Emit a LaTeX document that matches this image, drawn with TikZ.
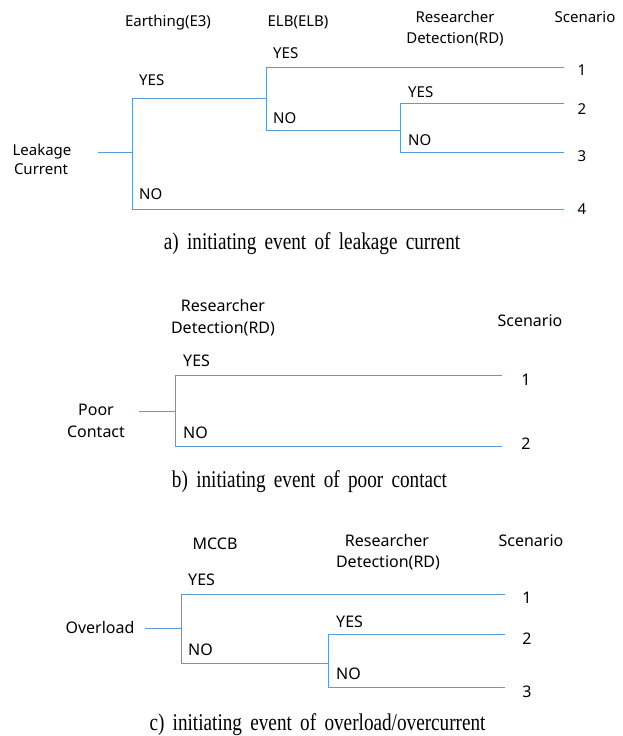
\documentclass[tikz,border=0pt]{standalone}
\usepackage{fontspec}
\setsansfont{Noto Sans}
\newfontfamily\capfont[FakeStretch=0.8]{Liberation Serif}
\definecolor{treeblue}{RGB}{91,155,213}
\tikzstyle{txt} = [inner sep=0pt,anchor=base,font=\sffamily\fontsize{15}{18}\selectfont]
\tikzstyle{txtb} = [txt,font=\sffamily\fontsize{16}{19}\selectfont]
\tikzstyle{yn} = [txt,anchor=base west]
\tikzstyle{ynb} = [txtb,anchor=base west]
\tikzstyle{capt} = [inner sep=0pt,anchor=base,font={\capfont\fontsize{24}{28}\selectfont\spaceskip=8.3pt\relax}]
\tikzstyle{treeline} = [draw=treeblue,line width=1pt]
\begin{document}
\begin{tikzpicture}[x=1pt,y=-1pt]
		\useasboundingbox (0,0) rectangle (622,736);
		% a) leakage current
		\node [txt](aE3) at (168,27){Earthing(E3)};
		\node [txt](aELB) at (298,27){ELB(ELB)};
		\node [txt](aRD1) at (455,23){Researcher};
		\node [txt](aRD2) at (455,43){Detection(RD)};
		\node [txt](aScen) at (585,23){Scenario};
		\node [txt](aInit1) at (42,155){Leakage};
		\node [txt](aInit2) at (41,174){Current};
		\node [yn](aE3y) at (139,85){YES};
		\node [yn](aE3n) at (139,199){NO};
		\node [yn](aELBy) at (273,58){YES};
		\node [yn](aELBn) at (273,123){NO};
		\node [yn](aRDy) at (408,97){YES};
		\node [yn](aRDn) at (408,145){NO};
		\node [txt](aS1) at (582,75){1};
		\node [txt](aS2) at (582,114){2};
		\node [txt](aS3) at (582,161){3};
		\node [txt](aS4) at (582,214){4};
		\coordinate (a0) at (98,152);
		\coordinate (a1) at (132,152);
		\coordinate (aT) at (132,98);
		\coordinate (aB) at (132,209);
		\coordinate (aJ) at (266,98);
		\coordinate (aELBt) at (266,67);
		\coordinate (aELBb) at (266,130);
		\coordinate (aRDj) at (400,130);
		\coordinate (aRDt) at (400,103);
		\coordinate (aRDb) at (400,152);
		\coordinate (aE1) at (564,67);
		\coordinate (aE2) at (564,103);
		\coordinate (aE3e) at (564,152);
		\coordinate (aE4) at (564,209);
		\draw[treeline](a0)--(a1);
		\draw[treeline](aT)--(aB);
		\draw[treeline](aT)--(aJ);
		\draw[treeline](aELBt)--(aELBb);
		\draw[treeline](aELBt)--(aE1);
		\draw[treeline](aELBb)--(aRDj);
		\draw[treeline](aRDt)--(aRDb);
		\draw[treeline](aRDt)--(aE2);
		\draw[treeline](aRDb)--(aE3e);
		\draw[treeline](aB)--(aE4);
		\node [capt](capA) at (312,249){a) initiating event of leakage current};
		% b) poor contact
		\node [txtb](bRD1) at (223,311){Researcher};
		\node [txtb](bRD2) at (223,333){Detection(RD)};
		\node [txtb](bScen) at (530,326){Scenario};
		\node [txtb](bInit1) at (96,415){Poor};
		\node [txtb](bInit2) at (96,437){Contact};
		\node [ynb](bRDy) at (183,366){YES};
		\node [ynb](bRDn) at (183,438){NO};
		\node [txtb](bS1) at (526,385){1};
		\node [txtb](bS2) at (526,449){2};
		\coordinate (b0) at (139,411);
		\coordinate (b1) at (175,411);
		\coordinate (bT) at (175,375);
		\coordinate (bB) at (175,446);
		\coordinate (bE1) at (502,375);
		\coordinate (bE2) at (502,446);
		\draw[treeline](b0)--(b1);
		\draw[treeline](bT)--(bB);
		\draw[treeline](bT)--(bE1);
		\draw[treeline](bB)--(bE2);
		\node [capt](capB) at (309.5,487){b) initiating event of poor contact};
		% c) overload
		\node [txtb](cMCCB) at (215,549){MCCB};
		\node [txtb](cRD1) at (387,546){Researcher};
		\node [txtb](cRD2) at (388,567){Detection(RD)};
		\node [txtb](cScen) at (531,546){Scenario};
		\node [txtb](cInit) at (100,633){Overload};
		\node [ynb](cMy) at (188,585){YES};
		\node [ynb](cMn) at (188,655){NO};
		\node [ynb](cRDy) at (336,627){YES};
		\node [ynb](cRDn) at (336,679){NO};
		\node [txtb](cS1) at (527,603){1};
		\node [txtb](cS2) at (527,644){2};
		\node [txtb](cS3) at (527,697){3};
		\coordinate (c0) at (145,628);
		\coordinate (c1) at (181,628);
		\coordinate (cT) at (181,594);
		\coordinate (cB) at (181,663);
		\coordinate (cJ) at (328,663);
		\coordinate (cRt) at (328,634);
		\coordinate (cRb) at (328,687);
		\coordinate (cE1) at (505,594);
		\coordinate (cE2) at (505,634);
		\coordinate (cE3) at (505,687);
		\draw[treeline](c0)--(c1);
		\draw[treeline](cT)--(cB);
		\draw[treeline](cT)--(cE1);
		\draw[treeline](cB)--(cJ);
		\draw[treeline](cRt)--(cRb);
		\draw[treeline](cRt)--(cE2);
		\draw[treeline](cRb)--(cE3);
		\node [capt](capC) at (317.5,730){c) initiating event of overload/overcurrent};
\end{tikzpicture}
\end{document}
